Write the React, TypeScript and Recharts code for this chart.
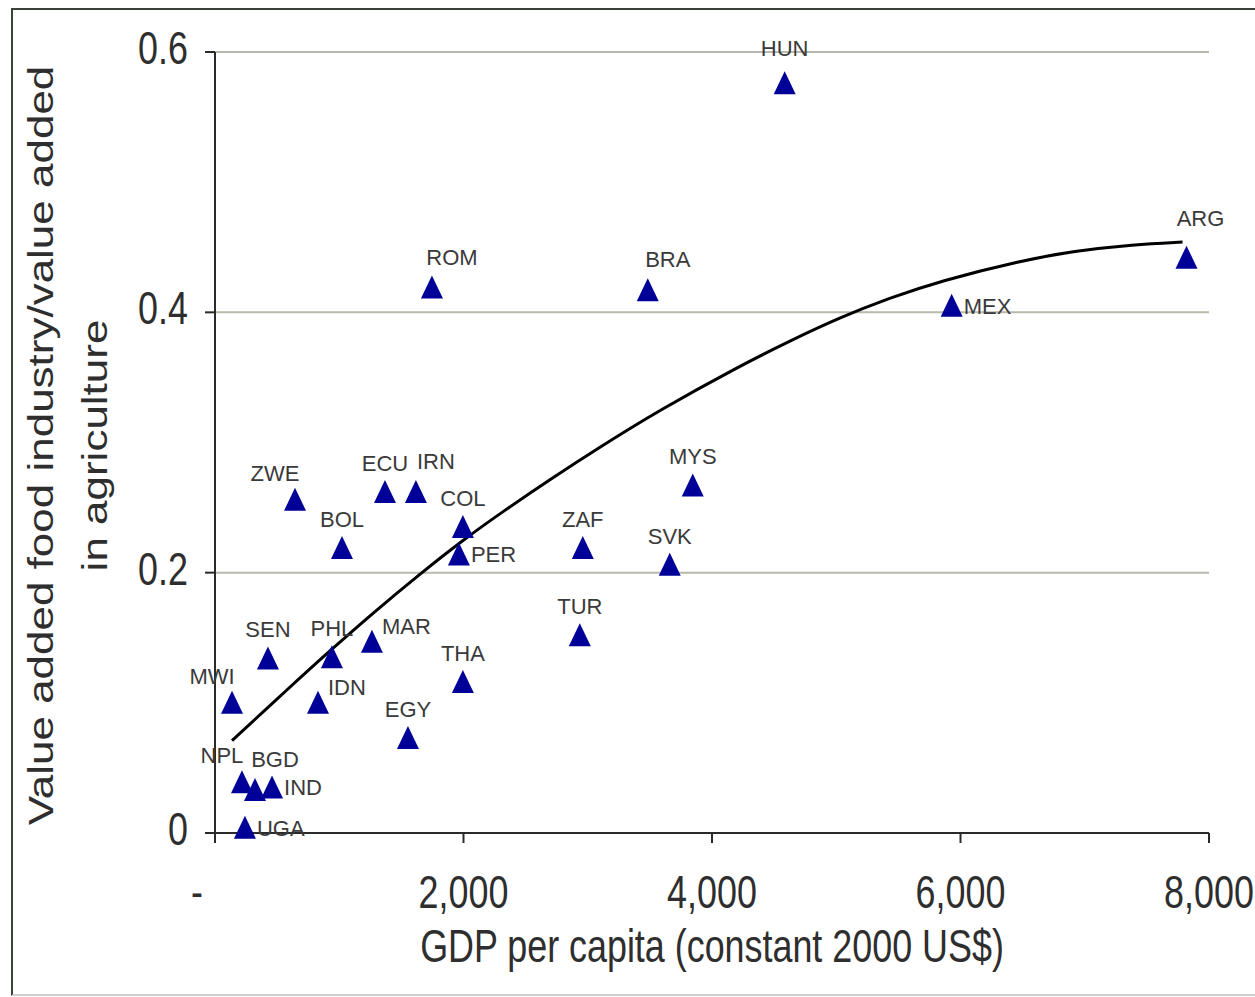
import React from 'react';
import { ComposedChart, Scatter, Line, XAxis, YAxis, CartesianGrid, Label } from 'recharts';

// ---- data ----
const countries = ['HUN', 'ARG', 'ROM', 'BRA', 'MEX', 'ZWE', 'ECU', 'IRN', 'MYS', 'BOL', 'COL', 'PER', 'ZAF', 'SVK', 'TUR', 'SEN', 'PHL', 'MAR', 'THA', 'MWI', 'IDN', 'EGY', 'NPL', 'BGD', 'IND', 'UGA'];
const gdpPerCapita = [4585, 7819, 1746, 3483, 5929, 644, 1368, 1617, 3845, 1022, 1995, 1963, 2960, 3660, 2936, 426, 941, 1263, 1995, 137, 829, 1553, 217, 322, 459, 241];
const valueAddedRatio = [0.576, 0.442, 0.419, 0.417, 0.405, 0.256, 0.262, 0.262, 0.267, 0.219, 0.235, 0.214, 0.219, 0.206, 0.152, 0.134, 0.135, 0.147, 0.116, 0.1, 0.1, 0.073, 0.039, 0.033, 0.035, 0.004];

// label placement of each country's data label (style only)
const labelPlacement = ['topHigh', 'topHighRight', 'topRight', 'topRight', 'right', 'topLeft', 'top', 'topRight', 'top', 'top', 'top', 'right', 'top', 'top', 'top', 'top', 'top', 'rightUp', 'top', 'topLeft', 'rightUp', 'top', 'topLeft', 'topRight', 'right', 'right'];

// trend curve
const trendGdp = [137, 579, 925, 1271, 1649, 1995, 2317, 2719, 3073, 3580, 4207, 4626, 5028, 5430, 5832, 6500, 6910, 7393, 7787];
const trendRatio = [0.071, 0.11, 0.14, 0.169, 0.199, 0.225, 0.247, 0.273, 0.295, 0.325, 0.358, 0.378, 0.396, 0.411, 0.424, 0.44, 0.447, 0.452, 0.454];

const xTicks = [0, 2000, 4000, 6000, 8000];
const xTickLabels = ['-', '2,000', '4,000', '6,000', '8,000'];
const yTicks = [0, 0.2, 0.4, 0.6];
const yTickLabels = ['0', '0.2', '0.4', '0.6'];

const xTitle = 'GDP per capita (constant 2000 US$)';
const yTitleLines = ['Value added food industry/value added', 'in agriculture'];

const points = countries.map((c, i) => ({ name: c, x: gdpPerCapita[i], y: valueAddedRatio[i], place: labelPlacement[i] }));
const trend = trendGdp.map((x, i) => ({ x, y: trendRatio[i] }));

const FONT = '"Liberation Sans", Arial, sans-serif';
const SQUEEZE = 0.78;
const TEXT = '#2e2e2e';
const MARKER = '#000099';

const placeOffsets: Record<string, { dx: number; dy: number; anchor: 'middle' | 'start' }> = {
  top: { dx: 0, dy: -29, anchor: 'middle' },
  topHigh: { dx: 0, dy: -35, anchor: 'middle' },
  topHighRight: { dx: 14, dy: -40, anchor: 'middle' },
  topRight: { dx: 20, dy: -31, anchor: 'middle' },
  topLeft: { dx: -20, dy: -27, anchor: 'middle' },
  right: { dx: 12, dy: 0, anchor: 'start' },
  rightUp: { dx: 10, dy: -16, anchor: 'start' },
};

const TriangleShape = (props: any) => {
  const { cx, cy, payload } = props;
  if (cx == null || cy == null) return null;
  const o = placeOffsets[payload.place] || placeOffsets.top;
  return (
    <g>
      <polygon points={`${cx},${cy - 12} ${cx + 11},${cy + 11} ${cx - 11},${cy + 11}`} fill={MARKER} />
      <text
        x={cx + o.dx}
        y={cy + o.dy}
        dy="0.36em"
        textAnchor={o.anchor}
        fontFamily={FONT}
        fontSize={22}
        fill="#3a3a3a"
      >
        {payload.name}
      </text>
    </g>
  );
};

const XTick = (props: any) => {
  const { x, y, payload } = props;
  const idx = xTicks.indexOf(payload.value);
  const label = idx >= 0 ? xTickLabels[idx] : String(payload.value);
  const shift = payload.value === 0 ? -18 : 0;
  return (
    <text
      transform={`translate(${x + shift},${y + 65}) scale(${SQUEEZE},1)`}
      textAnchor="middle"
      fontFamily={FONT}
      fontSize={46}
      fill={TEXT}
    >
      {label}
    </text>
  );
};

const YTick = (props: any) => {
  const { x, y, payload } = props;
  const idx = yTicks.indexOf(payload.value);
  const label = idx >= 0 ? yTickLabels[idx] : String(payload.value);
  return (
    <text
      transform={`translate(${x - 17},${y + 12}) scale(${SQUEEZE},1)`}
      textAnchor="end"
      fontFamily={FONT}
      fontSize={46}
      fill={TEXT}
    >
      {label}
    </text>
  );
};

const XTitle = (props: any) => {
  const vb = props.viewBox || { x: 215, y: 833, width: 994, height: 60 };
  const cx = vb.x + vb.width / 2;
  return (
    <text
      transform={`translate(${cx},${vb.y + 129}) scale(${SQUEEZE},1)`}
      textAnchor="middle"
      fontFamily={FONT}
      fontSize={46}
      fill={TEXT}
    >
      {xTitle}
    </text>
  );
};

const YTitle = (props: any) => {
  const vb = props.viewBox || { x: 135, y: 52, width: 80, height: 781 };
  const cy = vb.y + vb.height / 2 + 3;
  const left = vb.x;
  return (
    <g>
      <text
        transform={`translate(${left - 82},${cy}) scale(${SQUEEZE},1) rotate(-90)`}
        textAnchor="middle"
        fontFamily={FONT}
        fontSize={44}
        fill={TEXT}
      >
        {yTitleLines[0]}
      </text>
      <text
        transform={`translate(${left - 28},${cy}) scale(${SQUEEZE},1) rotate(-90)`}
        textAnchor="middle"
        fontFamily={FONT}
        fontSize={44}
        fill={TEXT}
      >
        {yTitleLines[1]}
      </text>
    </g>
  );
};

export default function App() {
  return (
    <div style={{ position: 'absolute', left: 0, top: 0, width: 1255, height: 997, background: '#fff', overflow: 'hidden' }}>
      <div
        style={{
          position: 'absolute',
          left: 11,
          top: 8,
          width: 1260,
          height: 984,
          borderLeft: '2px solid #3a423a',
          borderTop: '2px solid #3a423a',
          borderBottom: '2px solid #cfcfcf',
        }}
      />
      <div style={{ position: 'absolute', left: 0, top: 0 }}>
        <ComposedChart
          width={1255}
          height={997}
          margin={{ top: 52, right: 46, bottom: 104, left: 135 }}
        >
          <CartesianGrid vertical={false} horizontal stroke="#b9b9ad" strokeWidth={2} />
          <XAxis
            type="number"
            dataKey="x"
            domain={[0, 8000]}
            ticks={xTicks}
            interval={0}
            height={60}
            stroke="#2a2a2a"
            strokeWidth={2}
            tickSize={10}
            tickMargin={0}
            tick={<XTick />}
          >
            <Label content={<XTitle />} />
          </XAxis>
          <YAxis
            type="number"
            dataKey="y"
            domain={[0, 0.6]}
            ticks={yTicks}
            interval={0}
            width={80}
            stroke="#2a2a2a"
            strokeWidth={2}
            tickSize={10}
            tickMargin={0}
            tick={<YTick />}
          >
            <Label content={<YTitle />} />
          </YAxis>
          <Scatter data={points} dataKey="y" shape={<TriangleShape />} isAnimationActive={false} />
          <Line
            data={trend}
            dataKey="y"
            type="basis"
            stroke="#000"
            strokeWidth={3}
            dot={false}
            activeDot={false}
            isAnimationActive={false}
          />
        </ComposedChart>
      </div>
    </div>
  );
}
